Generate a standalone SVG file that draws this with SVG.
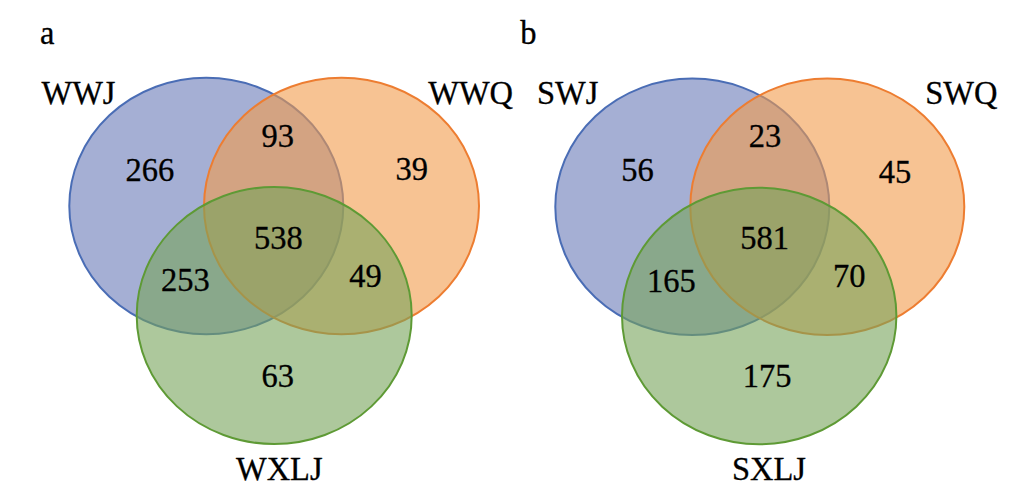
<svg xmlns="http://www.w3.org/2000/svg" width="1015" height="502" viewBox="0 0 1015 502">
<style>
.t{font-family:"Liberation Serif","Times New Roman",serif;font-size:32.5px;fill:#000;stroke:#000;stroke-width:0.3}
.b{fill:rgb(105,122,183);fill-opacity:0.6;stroke:#4A6DB5;stroke-width:2}
.o{fill:rgb(242,155,75);fill-opacity:0.6;stroke:#ED7D31;stroke-width:2}
.g{fill:rgb(118,163,90);fill-opacity:0.6;stroke:#5E9A35;stroke-width:2}
</style>
<rect width="1015" height="502" fill="#fff"/>
<g id="panel-a">
<g id="WWJ"><ellipse class="b" cx="206.3" cy="206" rx="137" ry="128.3"/></g>
<g id="WWQ"><ellipse class="o" cx="341.5" cy="206" rx="137.5" ry="128.3"/></g>
<g id="WXLJ"><ellipse class="g" cx="274.2" cy="315.5" rx="137.5" ry="128.5"/></g>
<text class="t" transform="translate(40 44) scale(1 1.06)">a</text>
<text class="t" transform="translate(41.5 103.5) scale(1 1.06)">WWJ</text>
<text class="t" transform="translate(428.3 103.5) scale(1 1.06)">WWQ</text>
<text class="t" transform="translate(236 480) scale(1 1.06)">WXLJ</text>
<text class="t" transform="translate(125.5 180.7) scale(1 1.06)">266</text>
<text class="t" transform="translate(261.5 147.3) scale(1 1.06)">93</text>
<text class="t" transform="translate(395.5 180) scale(1 1.06)">39</text>
<text class="t" transform="translate(254 249.3) scale(1 1.06)">538</text>
<text class="t" transform="translate(161 291) scale(1 1.06)">253</text>
<text class="t" transform="translate(349.3 287.3) scale(1 1.06)">49</text>
<text class="t" transform="translate(261.5 386.7) scale(1 1.06)">63</text>
</g>
<g id="panel-b">
<g id="SWJ"><ellipse class="b" cx="692.3" cy="206.8" rx="137" ry="128.2"/></g>
<g id="SWQ"><ellipse class="o" cx="827.3" cy="206.8" rx="137" ry="128.2"/></g>
<g id="SXLJ"><ellipse class="g" cx="759.2" cy="316" rx="137.2" ry="128.3"/></g>
<text class="t" transform="translate(520.3 44) scale(1 1.06)">b</text>
<text class="t" transform="translate(537 103.5) scale(1 1.06)">SWJ</text>
<text class="t" transform="translate(925.3 103.5) scale(1 1.06)">SWQ</text>
<text class="t" transform="translate(732 480) scale(1 1.06)">SXLJ</text>
<text class="t" transform="translate(621.3 180.7) scale(1 1.06)">56</text>
<text class="t" transform="translate(748.7 147.3) scale(1 1.06)">23</text>
<text class="t" transform="translate(878.7 183.3) scale(1 1.06)">45</text>
<text class="t" transform="translate(740.3 249.3) scale(1 1.06)">581</text>
<text class="t" transform="translate(647 291.7) scale(1 1.06)">165</text>
<text class="t" transform="translate(833 287.3) scale(1 1.06)">70</text>
<text class="t" transform="translate(742.7 386.7) scale(1 1.06)">175</text>
</g>
<g id="connectors"/>
</svg>
